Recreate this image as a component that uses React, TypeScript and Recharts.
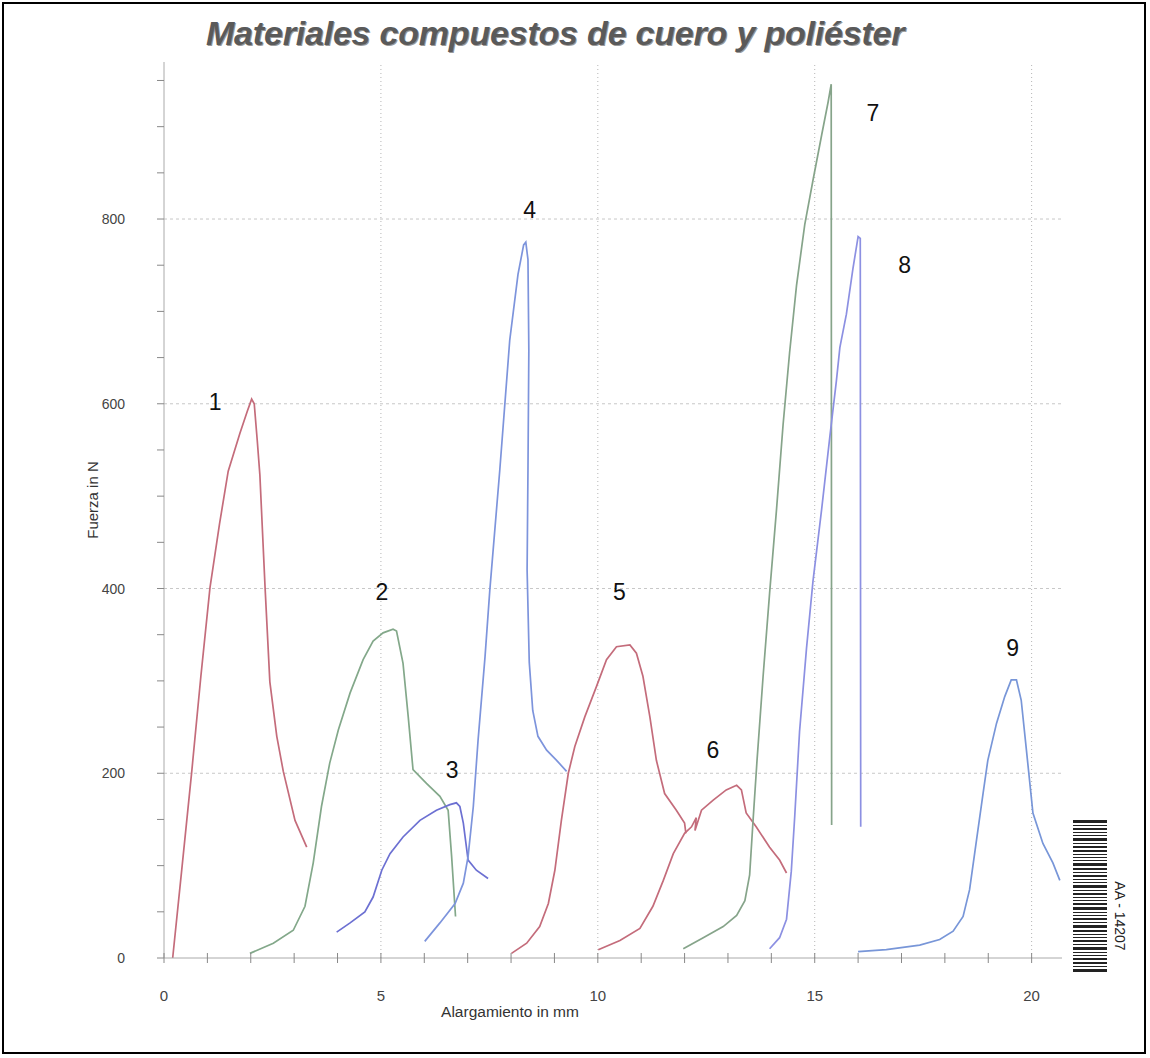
import { LineChart, Line, XAxis, YAxis, ReferenceLine, ReferenceDot } from "recharts";

// curvas fuerza / alargamiento (x en mm, y en N)
const curva1 = [
  { x: 0.2, y: 0 }, { x: 0.41, y: 96 }, { x: 0.64, y: 202 }, { x: 0.85, y: 305 },
  { x: 1.06, y: 401 }, { x: 1.28, y: 470 }, { x: 1.48, y: 527 }, { x: 1.75, y: 568 },
  { x: 1.92, y: 592 }, { x: 2.02, y: 605 }, { x: 2.08, y: 600 }, { x: 2.15, y: 560 },
  { x: 2.21, y: 523 }, { x: 2.33, y: 401 }, { x: 2.44, y: 299 }, { x: 2.6, y: 240 },
  { x: 2.75, y: 202 }, { x: 3.02, y: 149 }, { x: 3.29, y: 120 },
];
const curva2 = [
  { x: 1.98, y: 5 }, { x: 2.52, y: 16 }, { x: 2.98, y: 30 }, { x: 3.25, y: 56 },
  { x: 3.44, y: 103 }, { x: 3.63, y: 164 }, { x: 3.82, y: 211 }, { x: 4.02, y: 247 },
  { x: 4.29, y: 287 }, { x: 4.59, y: 323 }, { x: 4.82, y: 343 }, { x: 5.05, y: 352 },
  { x: 5.28, y: 356 }, { x: 5.36, y: 354 }, { x: 5.51, y: 319 }, { x: 5.63, y: 261 },
  { x: 5.74, y: 204 }, { x: 6.05, y: 189 }, { x: 6.36, y: 175 }, { x: 6.55, y: 160 },
  { x: 6.63, y: 110 }, { x: 6.72, y: 45 },
];
const curva3 = [
  { x: 3.98, y: 28 }, { x: 4.29, y: 38 }, { x: 4.63, y: 50 }, { x: 4.82, y: 66 },
  { x: 5.02, y: 95 }, { x: 5.21, y: 113 }, { x: 5.51, y: 131 }, { x: 5.9, y: 149 },
  { x: 6.28, y: 160 }, { x: 6.59, y: 166 }, { x: 6.74, y: 168 }, { x: 6.82, y: 164 },
  { x: 6.9, y: 146 }, { x: 7.01, y: 106 }, { x: 7.2, y: 95 }, { x: 7.47, y: 86 },
];
const curva4 = [
  { x: 6.01, y: 18 }, { x: 6.36, y: 38 }, { x: 6.71, y: 59 }, { x: 6.9, y: 81 },
  { x: 7.01, y: 110 }, { x: 7.13, y: 164 }, { x: 7.24, y: 236 }, { x: 7.4, y: 326 },
  { x: 7.51, y: 398 }, { x: 7.74, y: 528 }, { x: 7.97, y: 669 }, { x: 8.16, y: 740 },
  { x: 8.29, y: 772 }, { x: 8.34, y: 775 }, { x: 8.39, y: 756 }, { x: 8.41, y: 658 },
  { x: 8.39, y: 528 }, { x: 8.37, y: 420 }, { x: 8.42, y: 320 }, { x: 8.5, y: 268 },
  { x: 8.62, y: 240 }, { x: 8.82, y: 225 }, { x: 9.05, y: 214 }, { x: 9.28, y: 202 },
];
const curva5 = [
  { x: 8.01, y: 5 }, { x: 8.36, y: 16 }, { x: 8.66, y: 34 }, { x: 8.86, y: 59 },
  { x: 9.01, y: 95 }, { x: 9.16, y: 149 }, { x: 9.32, y: 200 }, { x: 9.47, y: 229 },
  { x: 9.7, y: 261 }, { x: 9.97, y: 294 }, { x: 10.2, y: 323 }, { x: 10.43, y: 337 },
  { x: 10.74, y: 339 }, { x: 10.89, y: 330 }, { x: 11.04, y: 305 }, { x: 11.2, y: 261 },
  { x: 11.35, y: 214 }, { x: 11.54, y: 178 }, { x: 11.81, y: 160 }, { x: 12.0, y: 146 },
  { x: 12.03, y: 135 },
];
const curva6 = [
  { x: 10.01, y: 9 }, { x: 10.51, y: 19 }, { x: 10.97, y: 32 }, { x: 11.27, y: 56 },
  { x: 11.51, y: 84 }, { x: 11.74, y: 113 }, { x: 12.0, y: 135 }, { x: 12.16, y: 142 },
  { x: 12.27, y: 152 }, { x: 12.24, y: 138 }, { x: 12.39, y: 160 }, { x: 12.66, y: 171 },
  { x: 12.96, y: 182 }, { x: 13.2, y: 187 }, { x: 13.31, y: 182 }, { x: 13.42, y: 157 },
  { x: 13.65, y: 142 }, { x: 13.96, y: 120 }, { x: 14.19, y: 106 }, { x: 14.35, y: 92 },
];
const curva7 = [
  { x: 11.97, y: 10 }, { x: 12.43, y: 22 }, { x: 12.89, y: 34 }, { x: 13.2, y: 46 },
  { x: 13.39, y: 62 }, { x: 13.5, y: 90 }, { x: 13.58, y: 150 }, { x: 13.67, y: 214 },
  { x: 13.81, y: 305 }, { x: 13.96, y: 395 }, { x: 14.12, y: 486 }, { x: 14.27, y: 577 },
  { x: 14.42, y: 655 }, { x: 14.58, y: 728 }, { x: 14.77, y: 794 }, { x: 14.96, y: 842 },
  { x: 15.16, y: 891 }, { x: 15.31, y: 927 }, { x: 15.38, y: 946 }, { x: 15.39, y: 144 },
];
const curva8 = [
  { x: 13.96, y: 10 }, { x: 14.19, y: 22 }, { x: 14.35, y: 42 }, { x: 14.46, y: 94 },
  { x: 14.54, y: 154 }, { x: 14.65, y: 245 }, { x: 14.81, y: 335 }, { x: 14.96, y: 408 },
  { x: 15.16, y: 486 }, { x: 15.35, y: 565 }, { x: 15.5, y: 625 }, { x: 15.58, y: 661 },
  { x: 15.73, y: 697 }, { x: 15.88, y: 746 }, { x: 16.0, y: 781 }, { x: 16.05, y: 779 },
  { x: 16.06, y: 142 },
];
const curva9 = [
  { x: 16.0, y: 7 }, { x: 16.65, y: 9 }, { x: 17.42, y: 14 }, { x: 17.88, y: 20 },
  { x: 18.19, y: 29 }, { x: 18.42, y: 45 }, { x: 18.57, y: 74 }, { x: 18.73, y: 128 },
  { x: 18.88, y: 178 }, { x: 18.99, y: 214 }, { x: 19.19, y: 254 }, { x: 19.38, y: 283 },
  { x: 19.53, y: 301 }, { x: 19.65, y: 301 }, { x: 19.76, y: 279 }, { x: 19.88, y: 225 },
  { x: 20.03, y: 157 }, { x: 20.26, y: 124 }, { x: 20.49, y: 103 }, { x: 20.65, y: 84 },
];

const curvas = [curva1, curva2, curva3, curva4, curva5, curva6, curva7, curva8, curva9];
const colores = ["#c46c7b", "#83a88a", "#6c70d2", "#7d94dc", "#c46c7b", "#c46c7b", "#86a48a", "#8c90e2", "#7896d8"];

// numeros de las probetas
const etiquetas = ["1", "2", "3", "4", "5", "6", "7", "8", "9"];
const etiquetaX = [1.18, 5.02, 6.64, 8.43, 10.5, 12.65, 16.34, 17.07, 19.56];
const etiquetaY = [602, 396, 204, 810, 396, 225, 915, 750, 336];

const ticksX = [0, 1, 2, 3, 4, 5, 6, 7, 8, 9, 10, 11, 12, 13, 14, 15, 16, 17, 18, 19, 20];
const ticksY = [0, 50, 100, 150, 200, 250, 300, 350, 400, 450, 500, 550, 600, 650, 700, 750, 800, 850, 900, 950];
const lineasX = [5, 10, 15, 20];
const lineasY = [200, 400, 600, 800];

// barras del codigo de barras (grosor)
const barras = [3, 1, 2, 1, 1, 3, 1, 2, 2, 1, 1, 1, 3, 2, 1, 2, 1, 1, 3, 1, 2, 1, 1, 2, 3, 1, 1, 2, 1, 3, 2, 1, 1, 2, 1, 3, 1, 1, 2, 2, 1, 3];

const font = "'Liberation Sans', Arial, sans-serif";

function TickX(props: any) {
  const { x, y, payload } = props;
  const v = payload.value;
  return (
    <g>
      <line x1={x} x2={x} y1={y - 5} y2={y + 5} stroke="#888" strokeWidth={1} />
      {v % 5 === 0 && (
        <text x={x} y={y + 43} textAnchor="middle" fontSize={15} fill="#444" fontFamily={font}>
          {v}
        </text>
      )}
    </g>
  );
}

function TickY(props: any) {
  const { x, y, payload } = props;
  const v = payload.value;
  return (
    <g>
      <line x1={x - 7} x2={x} y1={y} y2={y} stroke="#888" strokeWidth={1} />
      {v % 200 === 0 && (
        <text x={x - 39} y={y + 5} textAnchor="end" fontSize={14} fill="#444" fontFamily={font}>
          {v}
        </text>
      )}
    </g>
  );
}

function Numero(props: any) {
  const { cx, cy, texto } = props;
  return (
    <text x={cx} y={cy + 8} textAnchor="middle" fontSize={23} fill="#111" fontFamily={font}>
      {texto}
    </text>
  );
}

export default function App() {
  return (
    <div style={{ position: "absolute", left: 0, top: 0, width: 1150, height: 1058, background: "#fff", fontFamily: font }}>
      <div
        style={{
          position: "absolute", left: 2, top: 2, width: 1144, height: 1052,
          border: "2px solid #000", boxSizing: "border-box",
        }}
      />
      <div
        style={{
          position: "absolute", left: 206, top: 14, whiteSpace: "nowrap",
          fontSize: 34, fontWeight: "bold", fontStyle: "italic", color: "#5a5a5a",
          letterSpacing: -0.2, textShadow: "1px 1px 0 #999",
        }}
      >
        Materiales compuestos de cuero y poliéster
      </div>
      <LineChart width={1150} height={1058} margin={{ top: 62, right: 88, bottom: 40, left: 0 }}>
        {lineasX.map((v) => (
          <ReferenceLine key={"gx" + v} x={v} stroke="#b5b5b5" strokeDasharray="1 3" />
        ))}
        {lineasY.map((v) => (
          <ReferenceLine key={"gy" + v} y={v} stroke="#c8c8c8" strokeDasharray="3 3" />
        ))}
        <XAxis
          type="number"
          dataKey="x"
          domain={[0, 20.7]}
          ticks={ticksX}
          interval={0}
          height={60}
          tickSize={0}
          tickMargin={0}
          tickLine={false}
          axisLine={{ stroke: "#aaa" }}
          tick={<TickX />}
          allowDataOverflow
        />
        <YAxis
          type="number"
          domain={[0, 970]}
          ticks={ticksY}
          interval={0}
          width={164}
          tickSize={0}
          tickMargin={0}
          tickLine={false}
          axisLine={{ stroke: "#aaa" }}
          tick={<TickY />}
          allowDataOverflow
        />
        {curvas.map((c, i) => (
          <Line
            key={"c" + i}
            data={c}
            dataKey="y"
            type="linear"
            stroke={colores[i]}
            strokeWidth={1.7}
            dot={false}
            activeDot={false}
            isAnimationActive={false}
          />
        ))}
        {etiquetas.map((t, i) => (
          <ReferenceDot
            key={"n" + t}
            x={etiquetaX[i]}
            y={etiquetaY[i]}
            r={0}
            ifOverflow="visible"
            shape={(p: any) => <Numero {...p} texto={t} />}
          />
        ))}
      </LineChart>
      <div
        style={{
          position: "absolute", left: 92, top: 500, transform: "translate(-50%, -50%) rotate(-90deg)",
          fontSize: 15, color: "#333", whiteSpace: "nowrap",
        }}
      >
        Fuerza in N
      </div>
      <div
        style={{
          position: "absolute", left: 510, top: 1012, transform: "translate(-50%, -50%)",
          fontSize: 15.5, color: "#333", whiteSpace: "nowrap",
        }}
      >
        Alargamiento in mm
      </div>
      <svg style={{ position: "absolute", left: 1070, top: 820 }} width={40} height={205}>
        {barras.map((b, i) => {
          const yy = barras.slice(0, i).reduce((s, v) => s + v + 2, 0);
          return <rect key={i} x={3} y={yy} width={34} height={b} fill="#222" />;
        })}
      </svg>
      <div
        style={{
          position: "absolute", left: 1120, top: 916, transform: "translate(-50%, -50%) rotate(90deg)",
          fontSize: 14, color: "#222", whiteSpace: "nowrap",
        }}
      >
        AA - 14207
      </div>
    </div>
  );
}
